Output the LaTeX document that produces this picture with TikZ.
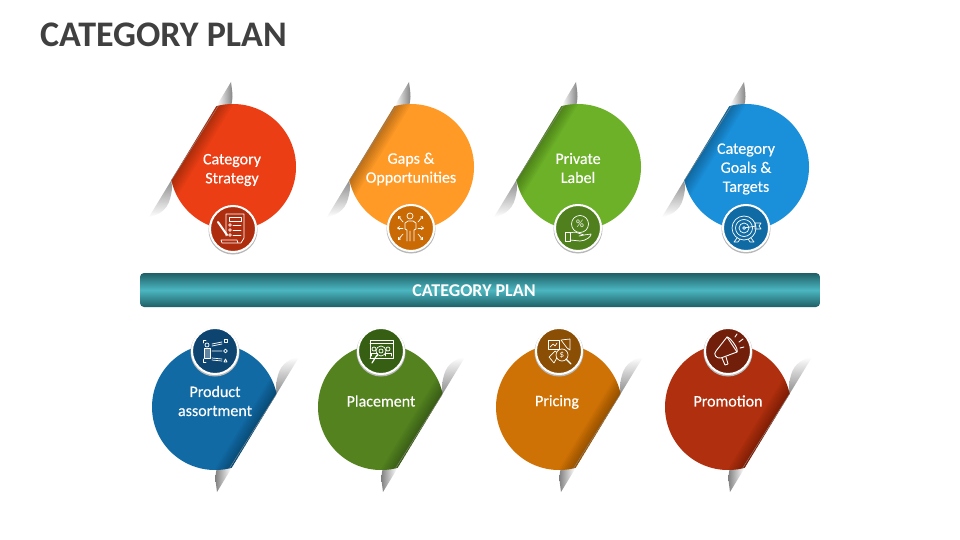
\documentclass[tikz,border=0pt]{standalone}
\usepackage{fontspec}
\setmainfont{Carlito}
\newfontfamily\labelfont[FakeBold=0.3]{Carlito}
\usepackage{xcolor}
\usetikzlibrary{shapes,arrows,positioning,calc,arrows.meta}

\definecolor{titlegray}{HTML}{404040}
\definecolor{barDark}{HTML}{1F5F66}
\definecolor{barLight}{HTML}{4BB6C0}
\definecolor{redC}{HTML}{EB3E14}
\definecolor{redB}{HTML}{AE2D0E}
\definecolor{orangeC}{HTML}{FF9A26}
\definecolor{orangeB}{HTML}{C96A05}
\definecolor{greenC}{HTML}{6CB128}
\definecolor{greenB}{HTML}{507F1E}
\definecolor{blueC}{HTML}{1A90DA}
\definecolor{blueB}{HTML}{106AA3}
\definecolor{navyC}{HTML}{116AA4}
\definecolor{navyB}{HTML}{0D4470}
\definecolor{leafC}{HTML}{53821F}
\definecolor{leafB}{HTML}{365F14}
\definecolor{amberC}{HTML}{CF7205}
\definecolor{amberB}{HTML}{8A4E05}
\definecolor{rustC}{HTML}{AF2F0E}
\definecolor{rustB}{HTML}{711F0A}

\tikzset{
    badge/.style={circle, draw=white, line width=2pt, minimum size=46pt, inner sep=0pt},
    badgeshadow/.style={circle, fill=black!28, minimum size=49pt, inner sep=0pt},
    label/.style={text=white, font=\fontsize{16}{19}\labelfont, align=center},
    icon/.style={draw=white, line width=0.7pt, line join=round, line cap=round},
    bartext/.style={text=white, font=\fontsize{18}{19}\selectfont\bfseries},
}

% Icons, drawn round the badge centre
\newcommand{\iconScroll}{
    \draw[icon] (-7,7) -- (-7,-15) -- (11,-15) -- (11,9) -- (8,14) -- (-11,14) -- (-12,11) -- (4,11) -- (5,14);
    \draw[icon] (-4,-12) rectangle (8,-8);
    \foreach \y in {-4,1,6} {
        \draw[icon] (-3,\y) circle (1.3);
        \draw[icon] (0,\y) -- (8,\y);
    }
    \draw[icon, line width=2pt] (-15,-7) -- (-6,6);
}
\newcommand{\iconPerson}{
    \draw[icon] (-1,-12) circle (3);
    \draw[icon] (-1,13) -- (-1,3) (-4,13) -- (-4,2) -- (-6,1) -- (-6,-5) -- (-3,-7) -- (2,-7) -- (5,-5) -- (5,1) -- (3,2) -- (3,13);
    \foreach \ax/\ay/\bx/\by in {-8/-6/-13/-12, 7/-6/12/-12, -8/0/-14/0, 7/0/13/0, -8/6/-13/12, 7/6/12/12} {
        \draw[icon, -{Straight Barb[length=2pt,width=3pt]}] (\ax,\ay) -- (\bx,\by);
    }
}
\newcommand{\iconHand}{
    \draw[icon] (2,-4) circle (8.5);
    \node[text=white, font=\fontsize{11}{11}\selectfont, inner sep=0pt] (pct) at (2,-4) {\%};
    \draw[icon] (-13,4) rectangle (-8,13);
    \draw[icon] (-8,5) .. controls (-3,3) and (0,5) .. (3,6) -- (6,7) -- (1,8) (6,7) -- (13,6) .. controls (14,8) and (8,13) .. (2,13) -- (-8,12);
}
\newcommand{\iconTarget}{
    \foreach \r in {12,8.5,5,1.5} {
        \draw[icon] (-2,0) circle (\r);
    }
    \draw[icon] (-2,0) -- (10,-2);
    \draw[icon] (9,-5) -- (15,-5) -- (13,-2) -- (15,1) -- (9,1) -- cycle;
    \draw[icon] (-9,10) -- (-12,14) -- (-8,14) -- (-6,11) (5,10) -- (8,14) -- (4,14) -- (2,11);
}
\newcommand{\iconAssort}{
    \draw[icon] (-8,-6) circle (2);
    \draw[icon, fill=white, fill opacity=0.35] (-11,-3) rectangle (-5,7);
    \draw[icon] (-12,-8) -- (-12,-11) -- (-9,-11) (-12,8) -- (-12,11) -- (-9,11);
    \draw[icon] (-3,-7) -- (7,-9) (-3,-5) -- (7,-7) (-3,0) -- (7,0) (-3,7) -- (7,8) (-3,9) -- (7,10);
    \draw[icon] (9,-12) rectangle (12,-9);
    \draw[icon] (10.5,0) circle (1.8);
    \draw[icon] (9,11) -- (12,11) -- (10.5,8) -- cycle;
}
\newcommand{\iconWindow}{
    \draw[icon] (-11,7) -- (-11,-11) -- (12,-11) -- (12,7) -- (-11,7);
    \draw[icon] (-11,-8) -- (12,-8);
    \foreach \px in {-7,7} {
        \draw[icon] (\px,-2) circle (2);
        \draw[icon] (\px-3,5) -- (\px-3,2) -- (\px+3,2) -- (\px+3,5);
    }
    \draw[icon] (0,0) circle (5);
    \draw[icon] (0,0) circle (2);
    \draw[icon, line width=1.2pt] (-4,4) -- (-9,12);
}
\newcommand{\iconPricing}{
    \draw[icon] (-11,-11) rectangle (0,-2);
    \draw[icon] (-9,-4) -- (-6,-7) -- (-4,-5) -- (-2,-8);
    \draw[icon] (2,-11) -- (11,-12) -- (11,-1) -- (8,-3) -- cycle;
    \draw[icon] (-10,6) -- (-4,0) -- (0,3) -- (-5,12) -- cycle;
    \draw[icon, fill=amberB] (3,4) circle (6);
    \node[text=white, font=\fontsize{9}{9}\selectfont, inner sep=0pt] (dollar) at (3,4) {\$};
    \draw[icon, line width=1.2pt] (7,8) -- (12,13);
}
\newcommand{\iconMegaphone}{
    \draw[icon, line width=0.9pt] (-12,0) -- (-1,-14) -- (9,1) -- (-7,7) .. controls (-12,8) and (-15,3) .. (-12,0);
    \draw[icon, line width=0.9pt] (-1,-14) .. controls (2,-14) and (11,-2) .. (9,1);
    \draw[icon, line width=0.9pt] (-6,7) -- (-3,14) -- (0,13) -- (-2,6);
    \draw[icon, line width=0.9pt] (7,-14) -- (9,-17) (11,-9) -- (15,-12) (12,-3) -- (16,-4);
}

\begin{document}
\begin{tikzpicture}[x=1pt, y=-1pt]
    \useasboundingbox (0,0) rectangle (960,540);
    \fill[white] (0,0) rectangle (960,540);

    % Title
    \node[anchor=west, inner sep=0pt, text=titlegray, font=\fontsize{36}{36}\selectfont\bfseries] (title) at (40,35) {CATEGORY PLAN};

    % Bar
    \node[minimum width=680pt, minimum height=34pt, rounded corners=4pt, inner sep=0pt,
        top color=barDark, bottom color=barDark, middle color=barLight] (bar) at (480,290) {};
    \node[bartext] (bartitle) at (474,291) {CATEGORY PLAN};

    % Circles with the folded cut
    \foreach \n/\cx/\cy/\ang/\ca/\cb/\by/\tx/\ty/\ic/\txt in {
        1/233/167/0/redC/redB/229/232/170/Scroll/{Category\\Strategy},
        2/411/167/0/orangeC/orangeB/228/411/169/Person/{Gaps \&\\Opportunities},
        3/578/167/0/greenC/greenB/228/578/168/Hand/{Private\\Label},
        4/746/167/0/blueC/blueB/228/746/169/Target/{Category\\Goals \&\\Targets},
        5/215/407/180/navyC/navyB/351/215/401/Assort/{Product\\assortment},
        6/381/407/180/leafC/leafB/351/381/401/Window/{Placement},
        7/559/407/180/amberC/amberB/351/557/402/Pricing/{Pricing},
        8/728/407/180/rustC/rustB/351/728/401/Megaphone/{Promotion}} {
        \begin{scope}[shift={(\cx,\cy)}, rotate=\ang]
            % Flaps
            \shade[left color=white, right color=black!50, shading angle=90+\ang]
                (-2,-85) -- (-16,-62) -- (-2,-60) .. controls (0,-70) .. (-2,-85);
            \shade[top color=black!45, bottom color=white, shading angle=\ang]
                (-84,50) -- (-61.5,13) -- (-61,22) .. controls (-63,36) and (-66,46) .. (-84,50);
            % Disc
            \begin{scope}
                \clip (-2,-85) -- (-84,50) -- (87,154) -- (169,19) -- cycle;
                \fill[\ca] (0,0) circle (63);
                \clip (0,0) circle (63);
                \foreach \d in {1.5,3,...,13.5} {
                    \fill[black, opacity=0.03] (-2,-85) -- (-84,50) -- (-84+\d*0.854,50+\d*0.519) -- (-2+\d*0.854,-85+\d*0.519) -- cycle;
                }
            \end{scope}
            \draw[black!45, line width=0.4pt] (-14.5,-61.3) -- (-61.5,13);
        \end{scope}
        \node[label] (text\n) at (\tx,\ty) {\txt};
        % Badge
        \node[badgeshadow] (shadow\n) at (\cx,\by+1) {};
        \node[badge, fill=\cb] (badge\n) at (\cx,\by) {};
        \begin{scope}[shift={(\cx,\by)}]
            \csname icon\ic\endcsname
        \end{scope}
    }
\end{tikzpicture}
\end{document}
